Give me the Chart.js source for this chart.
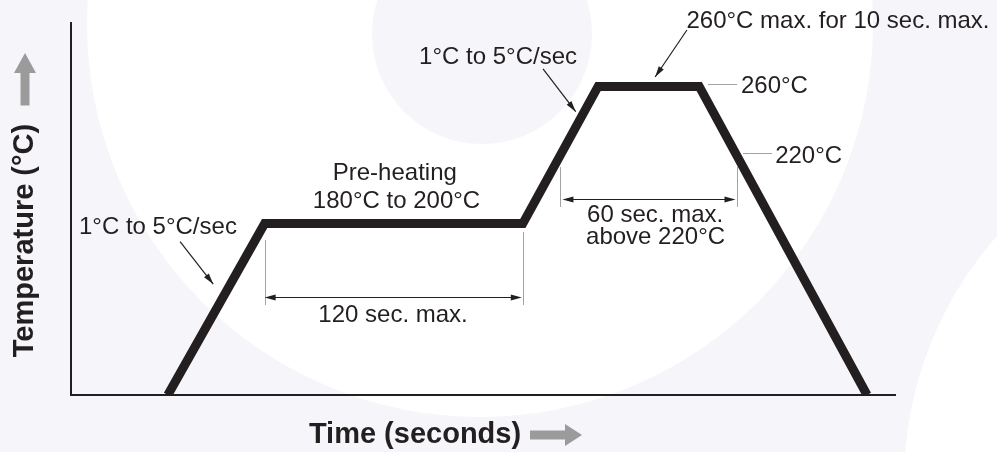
<!DOCTYPE html>
<html>
<head>
<meta charset="utf-8">
<style>
  html, body { margin: 0; padding: 0; background: #f6f5f9; }
  #wrap { width: 997px; height: 452px; }
</style>
<script src="https://cdn.jsdelivr.net/npm/chart.js@4/dist/chart.umd.min.js"></script>
</head>
<body>
<div id="wrap"><canvas id="profileChart" width="997" height="452"></canvas></div>
<script>
// REFLOW PROFILE (schematic): time in s, temperature in °C
var times = [45, 90, 210, 245, 292, 370];
var temps = [80, 180, 180, 260, 260, 80];
var liquidusTemp = 220;
var timeAxis = [0, 383];
var tempAxis = [80, 297];

var yTitle = 'Temperature (°C)';
var xTitle = 'Time (seconds)';

// text notes, anchored in data units
var notes = [
  { text: 'Pre-heating', t: 150.5, v: 205.4, align: 'center' },
  { text: '180°C to 200°C', t: 151.3, v: 189.1, align: 'center' },
  { text: '1°C to 5°C/sec', t: 40.4, v: 173.9, align: 'center' },
  { text: '1°C to 5°C/sec', t: 198.5, v: 273.1, align: 'center' },
  { text: '260°C max. for 10 sec. max.', t: 356.5, v: 294.1, align: 'center' },
  { text: '260°C', t: 311.4, v: 256.2, align: 'left' },
  { text: '220°C', t: 327.3, v: 215.3, align: 'left' },
  { text: '60 sec. max.', t: 271.5, v: 180.9, align: 'center' },
  { text: 'above 220°C', t: 271.7, v: 168.1, align: 'center' },
  { text: '120 sec. max.', t: 149.7, v: 122.6, align: 'center' }
];

// pointer arrows [from, to] in data units
var pointers = [
  [[50.7, 169.4], [66.1, 144.7]],
  [[219.4, 270.2], [234.6, 245.3]],
  [[286.3, 292.9], [271.5, 265.5]]
];

// short grey level marks next to the 260 / 220 labels
var levelMarks = [
  { t0: 296.1, t1: 309.6, v: 261.4 },
  { t0: 312.4, t1: 325.8, v: 221.2 }
];

var ink = '#231f20';
var guide = '#a3a3a3';
var arrowGrey = '#9b9b9b';
var face = '"Liberation Sans", Arial, Helvetica, sans-serif';

// time where the ramp crosses a temperature (between points i and i+1)
const crossing = (i, v) => times[i] + (v - temps[i]) / (temps[i + 1] - temps[i]) * (times[i + 1] - times[i]);

const arrowHead = (g, x1, y1, x2, y2, len, half) => {
  const a = Math.atan2(y2 - y1, x2 - x1);
  const c = Math.cos(a), s = Math.sin(a);
  g.beginPath();
  g.moveTo(x2, y2);
  g.lineTo(x2 - len * c + half * s, y2 - len * s - half * c);
  g.lineTo(x2 - len * c - half * s, y2 - len * s + half * c);
  g.closePath();
  g.fill();
}

var backdrop = {
  id: 'backdrop',
  beforeDraw: function (c) {
    var g = c.ctx;
    g.save();
    g.fillStyle = '#f6f5f9';
    g.fillRect(0, 0, c.width, c.height);
    g.fillStyle = '#ffffff';
    g.beginPath(); g.arc(480, 24, 393, 0, Math.PI * 2); g.fill();
    g.beginPath(); g.arc(1276, 482, 372, 0, Math.PI * 2); g.fill();
    g.fillStyle = '#f6f5f9';
    g.beginPath(); g.arc(482, 34, 110, 0, Math.PI * 2); g.fill();
    g.restore();
  }
};

var notesPlugin = {
  id: 'notes',
  afterDraw: function (c) {
    var g = c.ctx, xs = c.scales.x, ys = c.scales.y, area = c.chartArea;
    var X = (t) => xs.getPixelForValue(t);
    var Y = (v) => ys.getPixelForValue(v);
    var crisp = (p) => Math.round(p) + 0.5;
    g.save();

    // guide lines
    g.strokeStyle = guide;
    g.lineWidth = 1;
    var dim120 = [[times[1], 170.4], [times[2], 175.1]];
    dim120.forEach(function (d) {
      g.beginPath(); g.moveTo(crisp(X(d[0])), Y(d[1])); g.lineTo(crisp(X(d[0])), Y(132.5)); g.stroke();
    });
    var liq = [crossing(2, liquidusTemp), crossing(4, liquidusTemp)];
    liq.forEach(function (t) {
      g.beginPath(); g.moveTo(crisp(X(t)), Y(213)); g.lineTo(crisp(X(t)), Y(189.7)); g.stroke();
    });
    levelMarks.forEach(function (m) {
      g.beginPath(); g.moveTo(X(m.t0), crisp(Y(m.v))); g.lineTo(X(m.t1), crisp(Y(m.v))); g.stroke();
    });

    // dimension arrows
    g.strokeStyle = ink;
    g.fillStyle = ink;
    g.lineWidth = 1.2;
    var dims = [
      [X(times[1]) - 1, X(times[2]), crisp(Y(137.3))],
      [X(liq[0]) + 1, X(liq[1]), crisp(Y(194.3))]
    ];
    dims.forEach(function (d) {
      g.beginPath(); g.moveTo(d[0] + 4, d[2]); g.lineTo(d[1] - 4, d[2]); g.stroke();
      arrowHead(g, d[1], d[2], d[0] + 1, d[2], 11, 3);
      arrowHead(g, d[0], d[2], d[1] - 1, d[2], 11, 3);
    });

    // pointers
    pointers.forEach(function (p) {
      var x1 = X(p[0][0]), y1 = Y(p[0][1]), x2 = X(p[1][0]), y2 = Y(p[1][1]);
      g.beginPath(); g.moveTo(x1, y1); g.lineTo(x2, y2); g.stroke();
      arrowHead(g, x1, y1, x2, y2, 11, 3);
    });

    // notes
    g.font = '24px ' + face;
    g.textBaseline = 'alphabetic';
    notes.forEach(function (n) {
      g.textAlign = n.align;
      g.fillText(n.text, X(n.t), Y(n.v));
    });

    // axis titles
    g.font = 'bold 29px ' + face;
    g.textAlign = 'center';
    g.save();
    g.translate(area.left - 38, area.top + 217.5);
    g.rotate(-Math.PI / 2);
    g.fillText(yTitle, 0, 0);
    g.restore();
    g.fillText(xTitle, area.left + 344, area.bottom + 48);

    // grey direction arrows
    g.fillStyle = arrowGrey;
    var ax = area.left - 46, ay = area.top + 30;
    g.fillRect(ax - 4.5, ay + 20, 9, 32.5);
    g.beginPath(); g.moveTo(ax, ay); g.lineTo(ax + 11, ay + 20); g.lineTo(ax - 11, ay + 20); g.closePath(); g.fill();
    var bx = area.left + 459, by = area.bottom + 40;
    g.fillRect(bx, by - 4.5, 35, 9);
    g.beginPath(); g.moveTo(bx + 52, by); g.lineTo(bx + 35, by - 11); g.lineTo(bx + 35, by + 11); g.closePath(); g.fill();

    g.restore();
  }
};

var axisStyle = {
  type: 'linear',
  ticks: { display: false },
  grid: { display: false, drawTicks: false },
  border: { display: true, color: ink, width: 2 }
};

var ctx = document.getElementById('profileChart').getContext('2d');

var chart = new Chart(ctx, {
  type: 'line',
  data: {
    datasets: [{
      data: times.map((t, i) => ({ x: t, y: temps[i] })),
      borderColor: ink,
      borderWidth: 9,
      borderJoinStyle: 'miter',
      pointRadius: 0,
      tension: 0,
      fill: false
    }]
  },
  options: {
    responsive: false,
    animation: false,
    layout: { padding: { left: 71, top: 23, right: 102, bottom: 57 } },
    plugins: { legend: { display: false }, tooltip: { enabled: false } },
    scales: {
      x: Object.assign({}, axisStyle, { min: timeAxis[0], max: timeAxis[1] }),
      y: Object.assign({}, axisStyle, { min: tempAxis[0], max: tempAxis[1] })
    }
  },
  plugins: [backdrop, notesPlugin]
});
</script>
</body>
</html>
